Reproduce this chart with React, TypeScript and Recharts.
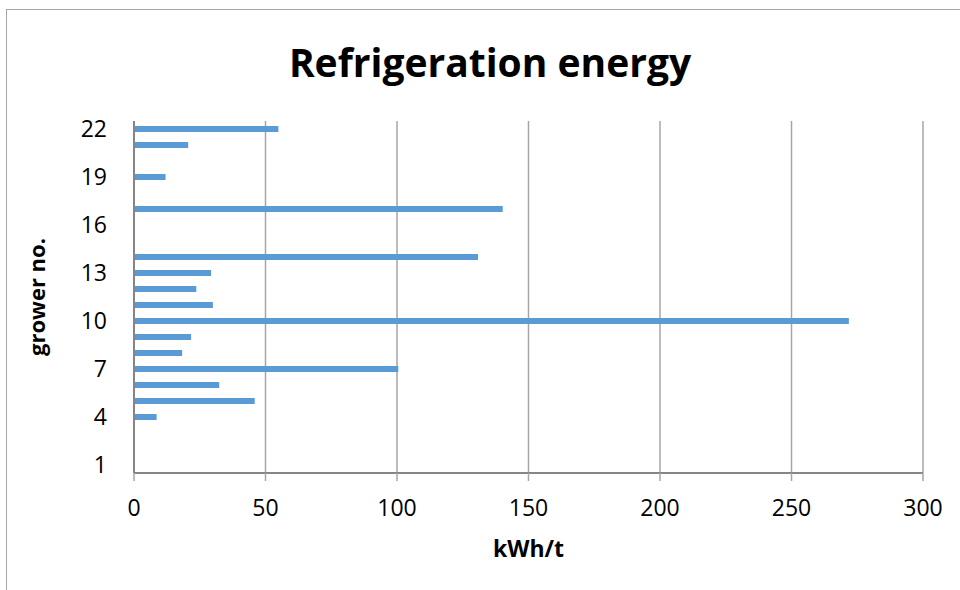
import { BarChart, Bar, XAxis, YAxis, CartesianGrid, Label } from "recharts";

// grower numbers, bottom to top
const growers = [
  "1", "2", "3", "4", "5", "6", "7", "8", "9", "10", "11",
  "12", "13", "14", "15", "16", "17", "18", "19", "20", "21", "22",
];

// refrigeration energy per grower (kWh/t), null = no value
const energy = [
  null, null, null, 8.6, 45.9, 32.4, 100.5, 18.3, 21.7, 271.8, 30,
  23.7, 29.3, 130.8, null, null, 140.2, null, 12, null, 20.6, 54.9,
];

const xTicks = [0, 50, 100, 150, 200, 250, 300];

const data = growers.map((g, i) => ({ grower: g, kwh: energy[i] }));

const FONT = "'Open Sans', 'Noto Sans', sans-serif";

const YTitle = ({ viewBox }: any) => {
  const cy = viewBox.y + viewBox.height / 2;
  return (
    <text
      x={36}
      y={cy}
      transform={`rotate(-90, 36, ${cy})`}
      textAnchor="middle"
      dominantBaseline="central"
      fontFamily={FONT}
      fontWeight="bold"
      fontSize={22}
      fill="#000"
    >
      grower no.
    </text>
  );
};

const XTitle = ({ viewBox }: any) => (
  <text
    x={viewBox.x + viewBox.width / 2}
    y={548}
    textAnchor="middle"
    dominantBaseline="central"
    fontFamily={FONT}
    fontWeight="bold"
    fontSize={23}
    fill="#000"
  >
    kWh/t
  </text>
);

const App = () => {
  return (
    <div
      style={{
        position: "absolute",
        left: 0,
        top: 0,
        width: 960,
        height: 590,
        overflow: "hidden",
        background: "#fff",
      }}
    >
      {/* chart area frame, runs off the right and bottom edge */}
      <div
        style={{
          position: "absolute",
          left: 6,
          top: 9,
          width: 1200,
          height: 1200,
          border: "1.5px solid #a6a6a6",
        }}
      />
      <div
        style={{
          position: "absolute",
          left: 0,
          top: 35,
          width: 980,
          textAlign: "center",
          fontFamily: FONT,
          fontWeight: "bold",
          fontSize: 39,
          color: "#000",
        }}
      >
        Refrigeration energy
      </div>
      <div style={{ position: "absolute", left: 0, top: 0 }}>
        <BarChart
          width={960}
          height={590}
          data={data}
          layout="vertical"
          margin={{ top: 121, right: 37, bottom: 57, left: 0 }}
          barSize={6}
        >
          <CartesianGrid horizontal={false} stroke="#a6a6a6" strokeWidth={1.5} />
          <XAxis
            type="number"
            domain={[0, 300]}
            ticks={xTicks}
            interval={0}
            height={60}
            axisLine={{ stroke: "#868686", strokeWidth: 2 }}
            tickLine={{ stroke: "#a6a6a6", strokeWidth: 1.5 }}
            tickSize={8}
            tickMargin={19}
            tick={{ fill: "#000", fontSize: 23, fontFamily: FONT }}
          >
            <Label content={XTitle} />
          </XAxis>
          <YAxis
            type="category"
            dataKey="grower"
            reversed
            width={134}
            interval={2}
            axisLine={{ stroke: "#868686", strokeWidth: 2 }}
            tickLine={false}
            tickSize={0}
            tickMargin={27}
            tick={{ fill: "#000", fontSize: 23, fontFamily: FONT }}
          >
            <Label content={YTitle} />
          </YAxis>
          <Bar dataKey="kwh" fill="#5b9bd5" isAnimationActive={false} />
        </BarChart>
      </div>
    </div>
  );
};

export default App;
